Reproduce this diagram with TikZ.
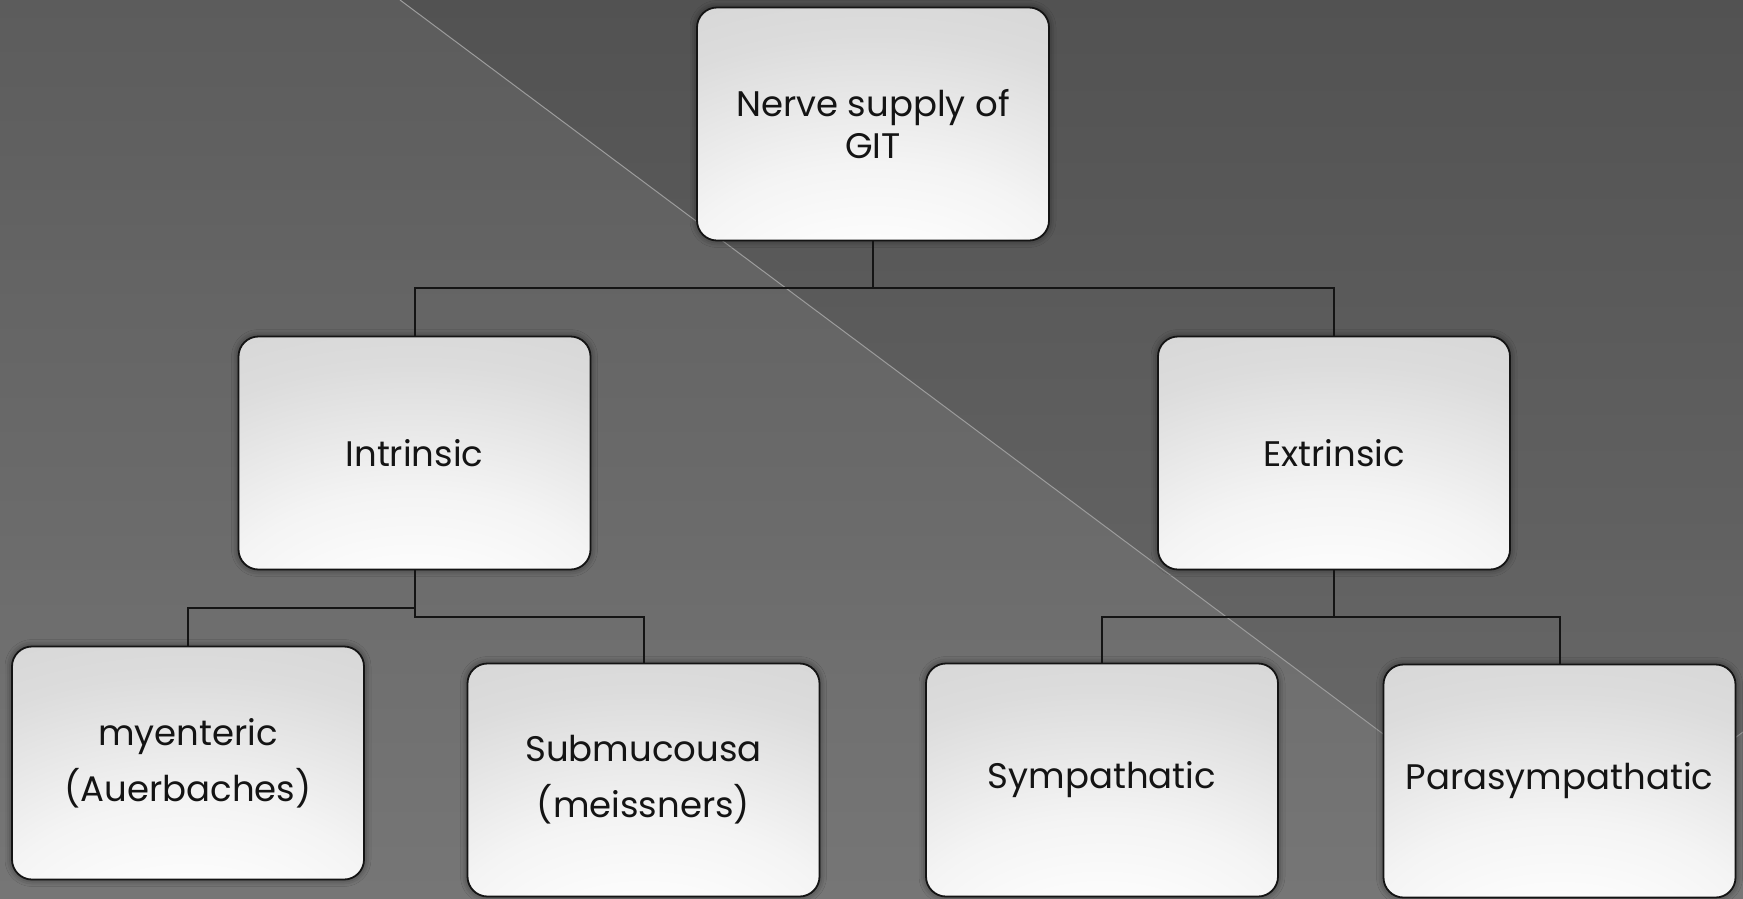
\documentclass[tikz,border=0pt]{standalone}
\usepackage{fontspec}
\setmainfont{Poppins}
\usetikzlibrary{shadows.blur}
\definecolor{bgtop}{HTML}{5C5C5C}
\definecolor{bgbot}{HTML}{767676}
\definecolor{dktop}{HTML}{525252}
\definecolor{dkbot}{HTML}{6A6A6A}
\definecolor{boxin}{HTML}{F4F4F4}
\definecolor{boxmid}{HTML}{DCDCDC}
\definecolor{boxlow}{HTML}{CDCDCD}
\definecolor{boxout}{HTML}{C4C4C4}
\definecolor{ink}{HTML}{141414}
\definecolor{diag}{HTML}{9C9C9C}
\pgfdeclareradialshading{boxshade}{\pgfpoint{0bp}{-50bp}}{color(0bp)=(white); color(14bp)=(white); color(30bp)=(boxin); color(50bp)=(boxmid); color(78bp)=(boxlow); color(100bp)=(boxout); color(130bp)=(boxout)}
\tikzset{
  box/.style={draw=ink, line width=1.8pt, rounded corners=20pt, shading=boxshade,
    minimum width=352pt, minimum height=233pt, inner sep=0pt, align=center,
    text=ink, font=\fontsize{35.5}{42}\selectfont,
    blur shadow={shadow xshift=0pt, shadow yshift=0pt, shadow blur radius=7pt, shadow opacity=55, shadow blur extra rounding=4pt}},
  lowbox/.style={box, font=\fontsize{35.5}{56}\selectfont},
  link/.style={draw=ink, line width=2pt}
}
\begin{document}
\begin{tikzpicture}[x=1pt,y=-1pt]
\useasboundingbox (0,0) rectangle (1743,898);
\shade[top color=bgtop, bottom color=bgbot] (0,0) rectangle (1743,898);
\shade[top color=dktop, bottom color=dkbot] (400,0) -- (1743,0) -- (1743,732) -- (1560,866) -- cycle;
\draw[diag, line width=1pt] (400,0) -- (1560,866) -- (1743,732);

\node[box] (git) at (873,124) {Nerve supply of\\GIT};
\node[box] (intr) at (414.5,453) {Intrinsic};
\node[box] (extr) at (1334,453) {Extrinsic};
\node[lowbox] (myen) at (188,763) {myenteric\\(Auerbaches)};
\node[lowbox] (subm) at (643.5,780) {Submucousa\\(meissners)};
\node[box] (symp) at (1102,780) {Sympathatic};
\node[box] (para) at (1559.5,781) {Parasympathatic};

\coordinate (j1) at (873,288);
\coordinate (j2a) at (414.5,608);
\coordinate (j2b) at (414.5,617);
\coordinate (j3) at (1334,617);

\draw[link] (git.south) -- (j1) -| (intr.north);
\draw[link] (j1) -| (extr.north);
\draw[link] (intr.south) -- (j2b) -| (subm.north);
\draw[link] (j2a) -| (myen.north);
\draw[link] (extr.south) -- (j3) -| (symp.north);
\draw[link] (j3) -| (para.north);
\end{tikzpicture}
\end{document}
